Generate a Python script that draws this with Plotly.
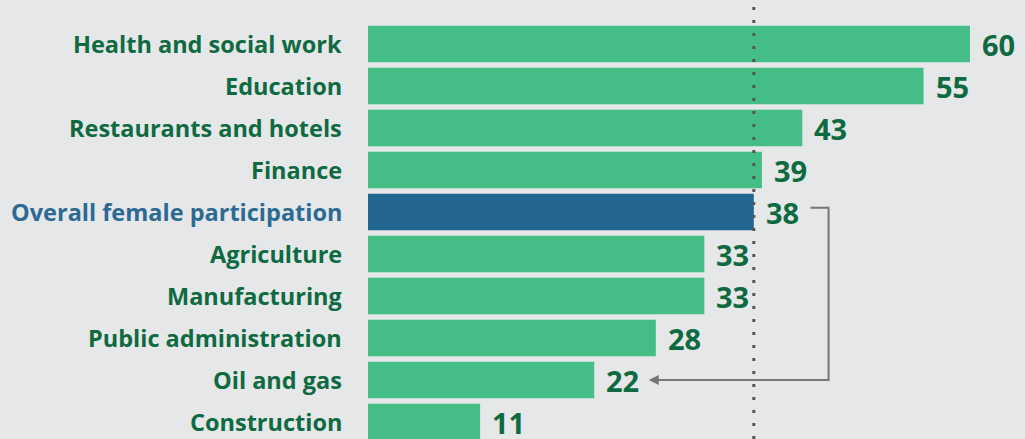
import plotly.graph_objects as go

categories = ["Health and social work", "Education", "Restaurants and hotels", "Finance",
              "Overall female participation", "Agriculture", "Manufacturing",
              "Public administration", "Oil and gas", "Construction"]
values = [59.6, 55.0, 43.0, 39.0, 38.2, 33.3, 33.3, 28.5, 22.4, 11.1]
value_labels = ["60", "55", "43", "39", "38", "33", "33", "28", "22", "11"]
highlight = "Overall female participation"
arrow_from = "Overall female participation"
arrow_to = "Oil and gas"

GREEN = "#45bd86"
BLUE = "#236690"
TEXT_GREEN = "#0e6a40"
TEXT_BLUE = "#2b6a93"
BG = "#e6e7e9"
FONT = "Open Sans"

ypos = list(range(len(categories)))
colors = [BLUE if c == highlight else GREEN for c in categories]

fig = go.Figure()
fig.add_trace(go.Bar(
    x=values, y=ypos, orientation="h", marker=dict(color=colors, line=dict(width=0)),
    width=0.87, hoverinfo="skip", showlegend=False,
))

annotations = []
for i, (c, v, lab) in enumerate(zip(categories, values, value_labels)):
    annotations.append(dict(
        x=0, y=i, xref="x", yref="y", text=c, showarrow=False,
        xanchor="right", yanchor="middle", xshift=-24, height=30, valign="middle",
        font=dict(family=FONT, size=23.5, color=TEXT_BLUE if c == highlight else TEXT_GREEN),
    ))
    annotations.append(dict(
        x=v, y=i, xref="x", yref="y", text=lab, showarrow=False,
        xanchor="left", yanchor="middle", xshift=10, height=34, valign="middle",
        font=dict(family=FONT, size=29, color=TEXT_GREEN),
    ))

ref_val = values[categories.index(highlight)]
i_from = categories.index(arrow_from)
i_to = categories.index(arrow_to)
v_to = values[i_to]

x_start = ref_val + 5.6
x_corner = ref_val + 7.4
x_end = v_to + 5.4

shapes = [
    dict(type="line", x0=ref_val, x1=ref_val, y0=0, y1=1, xref="x", yref="paper",
         line=dict(color="#555555", width=3, dash="3px,10px")),
    dict(type="path", xref="x", yref="y",
         path=f"M {x_start} {i_from - 0.1} L {x_corner} {i_from - 0.1} L {x_corner} {i_to} L {x_end + 0.6} {i_to}",
         line=dict(color="#777777", width=2)),
]
annotations.append(dict(
    x=x_end, y=i_to, ax=x_end + 1.2, ay=i_to, xref="x", yref="y", axref="x", ayref="y",
    text="", showarrow=True, arrowhead=2, arrowsize=1, arrowwidth=2, arrowcolor="#777777",
))

fig.update_layout(
    width=1025, height=439,
    margin=dict(l=368, r=0, t=0, b=0),
    paper_bgcolor=BG, plot_bgcolor=BG,
    bargap=0.13,
    xaxis=dict(range=[0, 65.05], visible=False, fixedrange=True),
    yaxis=dict(range=[9.405, -1.048], visible=False, fixedrange=True),
    shapes=shapes, annotations=annotations,
    font=dict(family=FONT),
)
fig.update_annotations(font_weight="bold", selector=dict(showarrow=False))

fig.write_html(
    "out.html",
    config={"displayModeBar": False},
    post_script="document.body.style.margin='0';document.body.style.background='#e6e7e9';",
)
